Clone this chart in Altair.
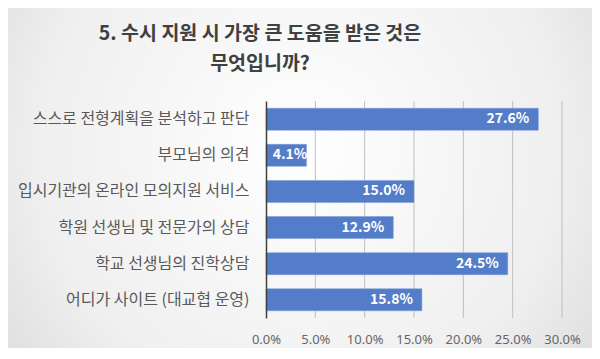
import altair as alt
import pandas as pd

categories = [
    "스스로 전형계획을 분석하고 판단",
    "부모님의 의견",
    "입시기관의 온라인 모의지원 서비스",
    "학원 선생님 및 전문가의 상담",
    "학교 선생님의 진학상담",
    "어디가 사이트 (대교협 운영)",
]
values = [27.6, 4.1, 15.0, 12.9, 24.5, 15.8]
x_ticks = [0, 5, 10, 15, 20, 25, 30]
title_lines = ["5. 수시 지원 시 가장 큰 도움을 받은 것은", "무엇입니까?"]

df = pd.DataFrame({"cat": categories, "val": values,
                   "label": [f"{v:.1f}%" for v in values]})
grid_df = pd.DataFrame({"t": x_ticks[1:]})

W, H = 296, 217
PL, PT, PR, PB = 258, 93, 30, 30
FONT = "Noto Sans CJK KR"

x_scale = alt.Scale(domain=[0, 30], nice=False)

bg = alt.Chart(pd.DataFrame({"a": [0]})).mark_rect(
    fill={
        "gradient": "radial",
        "x1": 0.5, "y1": 0.45, "r1": 0.0,
        "x2": 0.5, "y2": 0.45, "r2": 0.75,
        "stops": [
            {"offset": 0, "color": "#ffffff"},
            {"offset": 0.6, "color": "#efefef"},
            {"offset": 1, "color": "#d2d2d2"},
        ],
    },
).encode(
    x=alt.value(-PL), x2=alt.value(W + PR),
    y=alt.value(-PT), y2=alt.value(H + PB),
)

grid = alt.Chart(grid_df).mark_rule(color="#bfbfbf", strokeWidth=1).encode(
    x=alt.X("t:Q", scale=x_scale), y=alt.value(0), y2=alt.value(H))

y_enc = alt.Y("cat:N", sort=categories, title=None,
              scale=alt.Scale(paddingInner=0.39, paddingOuter=0.2),
              axis=alt.Axis(labelFont=FONT, labelFontSize=16, labelColor="#595959",
                            labelPadding=17, ticks=False, domainColor="#404040",
                            domainWidth=1.5, labelLimit=300, zindex=1))
x_enc = alt.X("val:Q", title=None, scale=x_scale,
              axis=alt.Axis(values=x_ticks, labelExpr="format(datum.value, '.1f') + '%'",
                            labelFont="Noto Sans", labelFontSize=13, labelColor="#666666",
                            labelPadding=15, ticks=False, domain=False, labelOverlap=False,
                            labelFlush=False, grid=False, zindex=1))

bars = alt.Chart(df).mark_bar(color="#537dc8", stroke="#7a9bd6", strokeWidth=0.5).encode(
    x=x_enc, y=y_enc)

labels = alt.Chart(df).transform_calculate(
    lx="max(datum.val, 5.1)"
).mark_text(align="right", baseline="middle", dx=-9,
            font=FONT, fontSize=14, fontWeight="bold",
            color="white").encode(
    x=alt.X("lx:Q"), y=alt.Y("cat:N", sort=categories), text="label:N")

title = alt.Chart(pd.DataFrame({"a": [0]})).mark_text(
    text=title_lines, font=FONT, fontSize=19.5, fontWeight="bold", color="#404040",
    lineHeight=30, align="center", baseline="middle",
).encode(x=alt.value(-6), y=alt.value(-67))

chart = alt.layer(bg, grid, bars, labels, title).properties(
    width=W, height=H,
    autosize=alt.AutoSizeParams(type="none"),
    padding={"left": PL, "top": PT, "right": PR, "bottom": PB},
    background="#e9e9e9",
).configure_view(stroke=None)

chart.save("out.html", embed_options={"renderer": "svg", "actions": False})
